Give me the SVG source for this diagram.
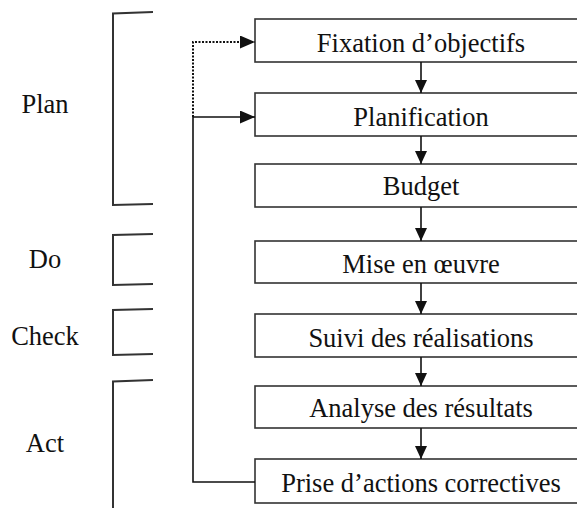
<svg xmlns="http://www.w3.org/2000/svg" width="577" height="508" viewBox="0 0 577 508">
<defs>
<style>
.box{fill:#fff;stroke:#333;stroke-width:1.6}
.t{font-family:'Liberation Serif','Times New Roman',serif;font-size:26.5px;fill:#111;text-anchor:middle}
.lbl{font-family:'Liberation Serif','Times New Roman',serif;font-size:26.5px;fill:#111;text-anchor:middle}
.br{fill:none;stroke:#333;stroke-width:2}
.c{fill:none;stroke:#111;stroke-width:1.6}
.d{fill:none;stroke:#111;stroke-width:2;stroke-dasharray:2 1.5}
</style>
<marker id="ah" viewBox="0 0 13 12" refX="13" refY="6" markerWidth="13" markerHeight="12" markerUnits="userSpaceOnUse" orient="auto">
<path d="M0,0 L13,6 L0,12 Z" fill="#111"/>
</marker>
<marker id="ahs" viewBox="0 0 15 13" refX="15" refY="6.5" markerWidth="15" markerHeight="13" markerUnits="userSpaceOnUse" orient="auto">
<path d="M0,0 L15,6.5 L0,13 Z" fill="#111"/>
</marker>
</defs>
<rect width="577" height="508" fill="#fff"/>
<g id="phases">
<g id="plan"><path class="br" d="M153,12 L113,13.5 L113,205 L153,204"/><text class="lbl" x="45" y="113">Plan</text></g>
<g id="do"><path class="br" d="M153,234 L113,235 L113,285 L153,284"/><text class="lbl" x="45" y="268">Do</text></g>
<g id="check"><path class="br" d="M153,309 L113,310 L113,355 L153,354"/><text class="lbl" x="45" y="345">Check</text></g>
<g id="act"><path class="br" d="M153,380 L113,381.5 L113,508"/><text class="lbl" x="45" y="452">Act</text></g>
</g>
<g id="n1"><rect class="box" x="255" y="19" width="340" height="43"/><text class="t" x="421" y="52">Fixation d’objectifs</text></g>
<g id="n2"><rect class="box" x="255" y="93" width="340" height="43"/><text class="t" x="421" y="126">Planification</text></g>
<g id="n3"><rect class="box" x="255" y="164" width="340" height="43"/><text class="t" x="421" y="195">Budget</text></g>
<g id="n4"><rect class="box" x="255" y="241" width="340" height="42"/><text class="t" x="421" y="273">Mise en œuvre</text></g>
<g id="n5"><rect class="box" x="255" y="314" width="340" height="43"/><text class="t" x="421" y="347">Suivi des réalisations</text></g>
<g id="n6"><rect class="box" x="255" y="386" width="340" height="42"/><text class="t" x="421" y="417">Analyse des résultats</text></g>
<g id="n7"><rect class="box" x="255" y="459" width="340" height="44"/><text class="t" x="421" y="492">Prise d’actions correctives</text></g>
<g id="connectors">
<line class="c" x1="421" y1="62" x2="421" y2="93" marker-end="url(#ah)"/>
<line class="c" x1="421" y1="136" x2="421" y2="164" marker-end="url(#ah)"/>
<line class="c" x1="421" y1="207" x2="421" y2="241" marker-end="url(#ah)"/>
<line class="c" x1="421" y1="283" x2="421" y2="314" marker-end="url(#ah)"/>
<line class="c" x1="421" y1="357" x2="421" y2="386" marker-end="url(#ah)"/>
<line class="c" x1="421" y1="428" x2="421" y2="459" marker-end="url(#ah)"/>
<path class="c" d="M255,482 L193,482 L193,117 L255,117" marker-end="url(#ahs)"/>
<path class="d" d="M193,117 L193,42 L255,42" marker-end="url(#ahs)"/>
</g>
</svg>
